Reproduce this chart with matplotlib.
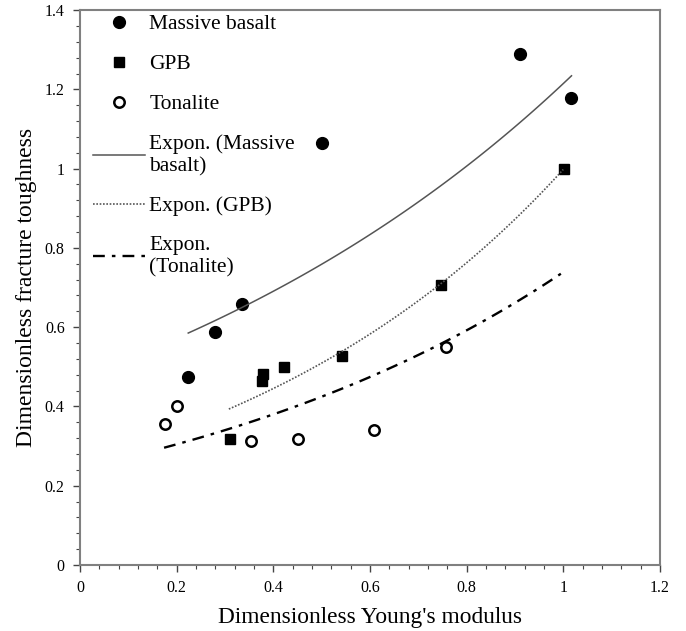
import numpy as np
import matplotlib.pyplot as plt
from matplotlib.ticker import MultipleLocator, FormatStrFormatter

# ---------------------------------------------------------------------
# Data
# ---------------------------------------------------------------------
basalt_x = [0.224, 0.279, 0.335, 0.500, 0.911, 1.017]
basalt_y = [0.475, 0.588, 0.659, 1.065, 1.290, 1.178]

gpb_x = [0.310, 0.377, 0.379, 0.423, 0.543, 0.747, 1.001]
gpb_y = [0.318, 0.465, 0.482, 0.499, 0.527, 0.706, 0.999]

tonalite_x = [0.175, 0.201, 0.354, 0.451, 0.608, 0.757]
tonalite_y = [0.355, 0.402, 0.312, 0.317, 0.341, 0.551]

# exponential trendlines y = a * exp(b * x), with x range of each fit
basalt_fit = (0.474, 0.941, 0.224, 1.017)
gpb_fit = (0.260, 1.345, 0.308, 1.000)
tonalite_fit = (0.244, 1.108, 0.174, 0.995)


def expon(fit):
    a, b, x0, x1 = fit
    x = np.linspace(x0, x1, 100)
    return x, a * np.exp(b * x)


plt.rcParams["font.family"] = ["Liberation Serif", "DejaVu Serif"]

fig = plt.figure(figsize=(6.86, 6.31), dpi=100)
ax = fig.add_axes([0.1166, 0.1046, 0.8454, 0.8794])

ax.plot(basalt_x, basalt_y, "o", color="black", ms=8.5, label="Massive basalt")
ax.plot(gpb_x, gpb_y, "s", color="black", ms=7.8, label="GPB")
ax.plot(tonalite_x, tonalite_y, "o", mfc="white", mec="black", mew=1.8,
        ms=7.5, label="Tonalite")

x, y = expon(basalt_fit)
ax.plot(x, y, "-", color="#555555", lw=1.1, label="Expon. (Massive\nbasalt)")
x, y = expon(gpb_fit)
ax.plot(x, y, color="#555555", lw=1.2, ls=(0, (1, 1)), label="Expon. (GPB)")
x, y = expon(tonalite_fit)
ax.plot(x, y, color="black", lw=1.7, ls=(0, (5, 3, 1.5, 3)),
        label="Expon.\n(Tonalite)")

ax.set_xlim(0, 1.2)
ax.set_ylim(0, 1.4)
ax.xaxis.set_major_locator(MultipleLocator(0.2))
ax.xaxis.set_minor_locator(MultipleLocator(0.04))
ax.yaxis.set_major_locator(MultipleLocator(0.2))
ax.yaxis.set_minor_locator(MultipleLocator(0.04))
ax.xaxis.set_major_formatter(FormatStrFormatter("%g"))
ax.yaxis.set_major_formatter(FormatStrFormatter("%g"))
ax.tick_params(which="both", direction="out", color="#444444", labelsize=11.5)
ax.tick_params(which="major", length=5, width=1, pad=6)
ax.tick_params(which="minor", length=3, width=0.8)

for s in ax.spines.values():
    s.set_color("#808080")
    s.set_linewidth(1.5)

ax.set_xlabel("Dimensionless Young's modulus", fontsize=16.8, labelpad=8)
ax.set_ylabel("Dimensionless fracture toughness", fontsize=17, labelpad=6)

leg = ax.legend(loc="upper left", frameon=False, fontsize=15.5,
                handlelength=2.4, labelspacing=0.92, handletextpad=0.2,
                borderaxespad=0.0, bbox_to_anchor=(0.008, 1.008))
for t in leg.get_texts():
    t.set_linespacing(1.25)

fig.savefig("out.png", dpi=100)
